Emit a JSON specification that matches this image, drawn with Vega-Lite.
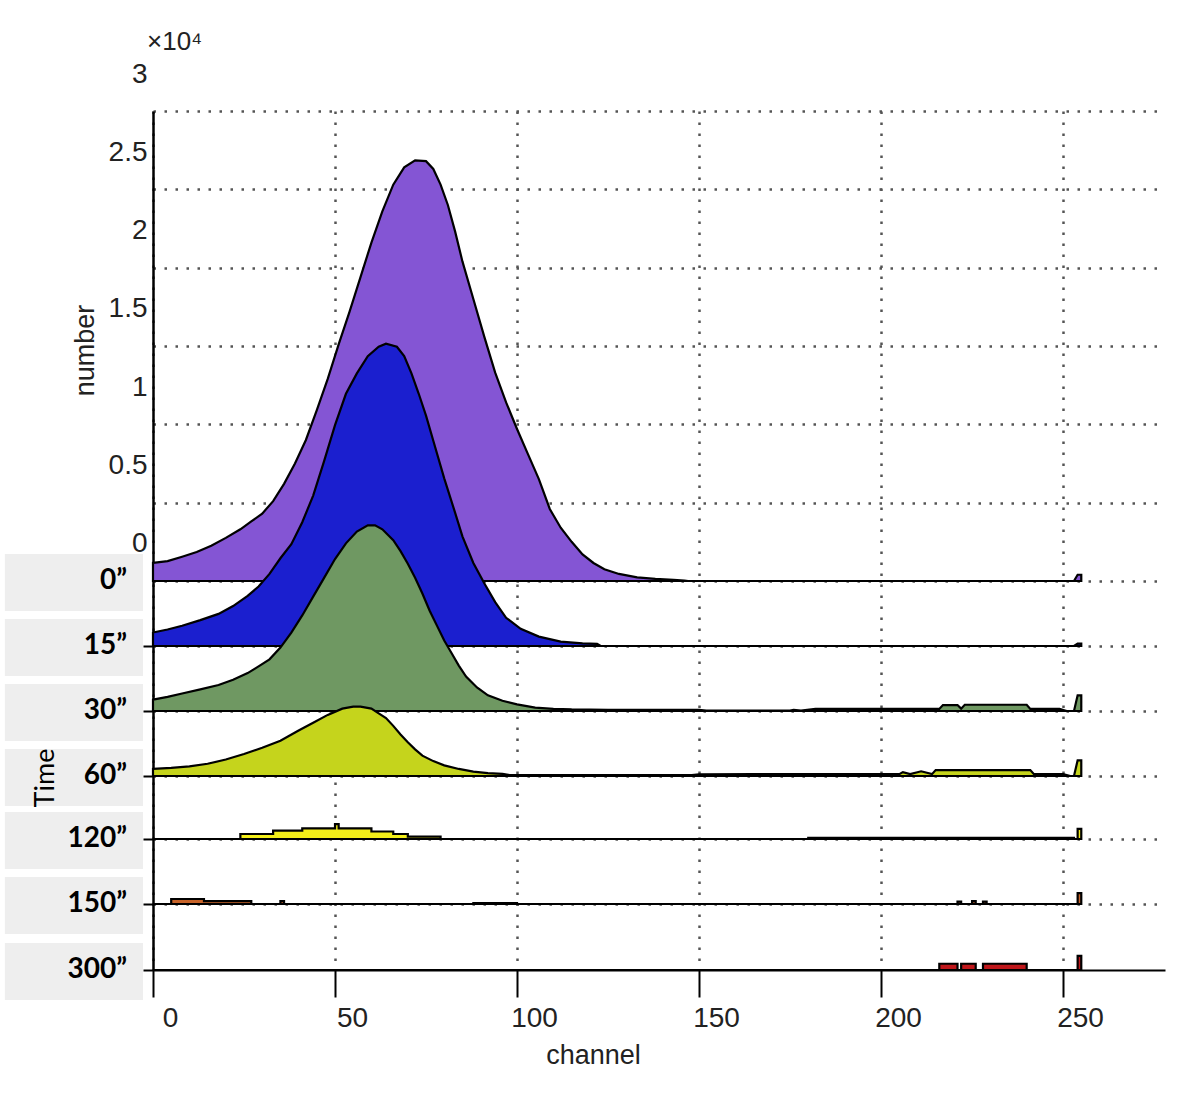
{
  "$schema": "https://vega.github.io/schema/vega-lite/v6.json",
  "autosize": {"type": "none"},
  "padding": {"left": 153, "top": 111, "right": 35, "bottom": 133},
  "width": 1012,
  "height": 859,
  "background": "white",
  "title": {"text": "×10⁴", "anchor": "start", "frame": "group", "offset": 5, "dx": -6, "font": "Liberation Sans, DejaVu Sans", "fontSize": 26, "fontWeight": "normal", "color": "#222"},
  "config": {
    "view": {"stroke": null},
    "axis": {"gridColor": "#555", "gridDash": [2.5, 8.5], "gridWidth": 2.5, "gridOpacity": 1, "tickColor": "black", "tickWidth": 2, "domainColor": "black", "labelFont": "Liberation Sans", "labelColor": "#222", "titleFont": "Liberation Sans", "titleColor": "#222", "titleFontWeight": "normal"},
    "axisX": {"orient": "bottom", "grid": true, "domain": true, "domainWidth": 2, "ticks": true, "tickSize": 27, "labelFontSize": 28, "labelPadding": 7, "labelAlign": "center", "labelBaseline": "top", "labelFlush": false, "labelOverlap": false, "labelOffset": 17, "titleFontSize": 27, "titleX": 440, "titleY": 85, "titleAlign": "center", "titleBaseline": "middle"}
  },
  "datasets": {
    "r0": [{"c":0,"n":1160},{"c":4,"n":1270},{"c":8,"n":1550},{"c":12,"n":1850},{"c":16,"n":2250},{"c":20,"n":2750},{"c":24,"n":3300},{"c":27,"n":3800},{"c":30,"n":4300},{"c":33,"n":5100},{"c":36,"n":6200},{"c":39,"n":7500},{"c":42,"n":9000},{"c":45,"n":10900},{"c":48,"n":12900},{"c":51,"n":15100},{"c":54,"n":17200},{"c":57,"n":19400},{"c":60,"n":21600},{"c":63,"n":23600},{"c":66,"n":25300},{"c":69,"n":26400},{"c":72,"n":26850},{"c":75,"n":26800},{"c":77,"n":26300},{"c":79,"n":25300},{"c":81,"n":24000},{"c":83,"n":22300},{"c":85,"n":20400},{"c":88,"n":18000},{"c":91,"n":15600},{"c":94,"n":13300},{"c":97,"n":11400},{"c":100,"n":9700},{"c":103,"n":8100},{"c":106,"n":6500},{"c":109,"n":4600},{"c":112,"n":3400},{"c":115,"n":2500},{"c":118,"n":1700},{"c":121,"n":1150},{"c":124,"n":750},{"c":128,"n":450},{"c":133,"n":230},{"c":138,"n":130},{"c":143,"n":70},{"c":146,"n":30},{"c":147,"n":0},{"c":253,"n":0},{"c":254,"n":400},{"c":255,"n":400}],
    "r1": [{"c":0,"n":860},{"c":4,"n":1050},{"c":8,"n":1290},{"c":13,"n":1650},{"c":18,"n":2050},{"c":22,"n":2550},{"c":26,"n":3200},{"c":29,"n":3800},{"c":32,"n":4600},{"c":35,"n":5600},{"c":38,"n":6500},{"c":41,"n":7900},{"c":44,"n":9600},{"c":47,"n":11800},{"c":50,"n":14100},{"c":53,"n":16100},{"c":56,"n":17400},{"c":59,"n":18500},{"c":62,"n":19100},{"c":64,"n":19300},{"c":67,"n":19100},{"c":69,"n":18500},{"c":71,"n":17400},{"c":73,"n":16100},{"c":75,"n":14700},{"c":77,"n":13100},{"c":80,"n":10700},{"c":83,"n":8500},{"c":85,"n":7000},{"c":88,"n":5300},{"c":91,"n":4000},{"c":94,"n":2800},{"c":97,"n":1800},{"c":101,"n":1100},{"c":106,"n":600},{"c":112,"n":280},{"c":118,"n":170},{"c":122,"n":130},{"c":123,"n":0},{"c":253,"n":0},{"c":254,"n":150},{"c":255,"n":150}],
    "r2": [{"c":0,"n":730},{"c":4,"n":900},{"c":8,"n":1120},{"c":13,"n":1380},{"c":18,"n":1660},{"c":22,"n":2000},{"c":26,"n":2420},{"c":29,"n":2850},{"c":32,"n":3300},{"c":35,"n":4050},{"c":38,"n":5000},{"c":41,"n":6100},{"c":44,"n":7300},{"c":47,"n":8500},{"c":50,"n":9700},{"c":53,"n":10700},{"c":56,"n":11450},{"c":59,"n":11850},{"c":61,"n":11850},{"c":63,"n":11600},{"c":66,"n":10900},{"c":68,"n":10200},{"c":70,"n":9400},{"c":72,"n":8500},{"c":74,"n":7500},{"c":76,"n":6400},{"c":78,"n":5450},{"c":80,"n":4500},{"c":82,"n":3700},{"c":84,"n":2900},{"c":86,"n":2200},{"c":89,"n":1500},{"c":92,"n":1000},{"c":96,"n":650},{"c":100,"n":420},{"c":105,"n":220},{"c":110,"n":140},{"c":115,"n":100},{"c":125,"n":80},{"c":140,"n":80},{"c":150,"n":70},{"c":152,"n":20},{"c":175,"n":20},{"c":176,"n":80},{"c":178,"n":20},{"c":182,"n":130},{"c":216,"n":130},{"c":217,"n":380},{"c":221,"n":380},{"c":222,"n":150},{"c":223,"n":400},{"c":240,"n":400},{"c":241,"n":130},{"c":249,"n":130},{"c":251,"n":0},{"c":253,"n":0},{"c":254,"n":1000},{"c":255,"n":1000}],
    "r3": [{"c":0,"n":450},{"c":5,"n":520},{"c":10,"n":620},{"c":15,"n":780},{"c":20,"n":1050},{"c":25,"n":1400},{"c":30,"n":1800},{"c":35,"n":2250},{"c":40,"n":2900},{"c":44,"n":3400},{"c":48,"n":3900},{"c":52,"n":4300},{"c":55,"n":4430},{"c":57,"n":4430},{"c":60,"n":4300},{"c":62,"n":4000},{"c":64,"n":3700},{"c":66,"n":3200},{"c":68,"n":2650},{"c":70,"n":2150},{"c":72,"n":1700},{"c":74,"n":1300},{"c":77,"n":950},{"c":80,"n":680},{"c":84,"n":450},{"c":88,"n":280},{"c":92,"n":180},{"c":96,"n":130},{"c":98,"n":60},{"c":120,"n":60},{"c":148,"n":60},{"c":150,"n":100},{"c":165,"n":120},{"c":205,"n":120},{"c":206,"n":250},{"c":208,"n":120},{"c":211,"n":300},{"c":214,"n":120},{"c":215,"n":380},{"c":241,"n":380},{"c":242,"n":120},{"c":250,"n":120},{"c":252,"n":0},{"c":253,"n":0},{"c":254,"n":1000},{"c":255,"n":1000}],
    "r4": [{"c":0,"n":0},{"c":24,"n":320},{"c":33,"n":530},{"c":41,"n":680},{"c":50,"n":950},{"c":51,"n":680},{"c":60,"n":480},{"c":66,"n":320},{"c":70,"n":150},{"c":79,"n":0},{"c":180,"n":70},{"c":253,"n":0},{"c":254,"n":650},{"c":255,"n":650}],
    "r5": [{"c":0,"n":0},{"c":5,"n":320},{"c":14,"n":180},{"c":27,"n":0},{"c":35,"n":180},{"c":36,"n":0},{"c":88,"n":50},{"c":100,"n":0},{"c":221,"n":150},{"c":222,"n":0},{"c":225,"n":180},{"c":226,"n":0},{"c":228,"n":150},{"c":229,"n":0},{"c":253,"n":0},{"c":254,"n":700},{"c":255,"n":700}],
    "r6": [{"c":0,"n":0},{"c":216,"n":400},{"c":221,"n":0},{"c":222,"n":400},{"c":226,"n":0},{"c":228,"n":400},{"c":240,"n":0},{"c":253,"n":0},{"c":254,"n":900},{"c":255,"n":900}]
  },
  "resolve": {"scale": {"y": "independent"}, "axis": {"y": "independent"}},
  "layer": [
    {"layer": [
      {"data": {"name": "r0"}, "mark": {"type": "area", "fill": "#8455D4", "stroke": "black", "strokeWidth": 2.2, "interpolate": "linear"},
       "encoding": {
         "x": {"field": "c", "type": "quantitative", "scale": {"domain": [0, 278], "nice": false, "zero": false}, "title": "channel", "axis": {"values": [0, 50, 100, 150, 200, 250]}},
         "y": {"field": "n", "type": "quantitative", "scale": {"domain": [-24830, 30000], "nice": false, "zero": false},
         "axis": {"orient": "left", "offset": 0, "values": [0, 5000, 10000, 15000, 20000, 25000, 30000], "labelExpr": "datum.value / 10000", "labelOffset": -37, "labelPadding": 6, "labelFontSize": 28, "labelAlign": "right", "labelBaseline": "middle", "labelFlush": false, "labelOverlap": false, "ticks": false, "domain": true, "domainWidth": 2.5, "grid": true, "title": "number", "titleFontSize": 27, "titleAngle": -90, "titleX": -68, "titleY": 239, "titleAlign": "center", "titleBaseline": "middle"}},
         "y2": {"datum": 0}}},
      {"data": {"values": [{"time": "0”"}]}, "mark": {"type": "rect", "fill": "#eeeeee"},
       "encoding": {"x": {"datum": -40.7}, "x2": {"datum": -2.75}, "y": {"datum": -1915}, "y2": {"datum": 1723}}},
      {"data": {"values": [{"time": "0”"}]}, "mark": {"type": "text", "align": "right", "baseline": "middle", "font": "Lato", "fontSize": 28, "fontWeight": "bold", "color": "black"},
       "encoding": {"x": {"datum": -7.1}, "y": {"datum": 0}, "text": {"field": "time"}}}
    ]},
    {"layer": [
      {"data": {"name": "r1"}, "mark": {"type": "area", "fill": "#1B1FCF", "stroke": "black", "strokeWidth": 2.2, "interpolate": "linear"},
       "encoding": {"x": {"field": "c", "type": "quantitative", "title": "channel", "axis": {"values": [0, 50, 100, 150, 200, 250]}},
         "y": {"field": "n", "type": "quantitative", "scale": {"domain": [-20681, 34149], "nice": false, "zero": false},
         "axis": {"orient": "left", "offset": 0, "values": [0], "labels": false, "ticks": true, "tickSize": 10, "domain": false, "grid": true, "title": null}},
         "y2": {"datum": 0}}},
      {"data": {"values": [{"time": "15”"}]}, "mark": {"type": "rect", "fill": "#eeeeee"},
       "encoding": {"x": {"datum": -40.7}, "x2": {"datum": -2.75}, "y": {"datum": -1915}, "y2": {"datum": 1723}}},
      {"data": {"values": [{"time": "15”"}]}, "mark": {"type": "text", "align": "right", "baseline": "middle", "font": "Lato", "fontSize": 28, "fontWeight": "bold", "color": "black"},
       "encoding": {"x": {"datum": -7.1}, "y": {"datum": 0}, "text": {"field": "time"}}}
    ]},
    {"layer": [
      {"data": {"name": "r2"}, "mark": {"type": "area", "fill": "#6F9862", "stroke": "black", "strokeWidth": 2.2, "interpolate": "linear"},
       "encoding": {"x": {"field": "c", "type": "quantitative", "title": "channel", "axis": {"values": [0, 50, 100, 150, 200, 250]}},
         "y": {"field": "n", "type": "quantitative", "scale": {"domain": [-16532, 38298], "nice": false, "zero": false},
         "axis": {"orient": "left", "offset": 0, "values": [0], "labels": false, "ticks": true, "tickSize": 10, "domain": false, "grid": true, "title": null}},
         "y2": {"datum": 0}}},
      {"data": {"values": [{"time": "30”"}]}, "mark": {"type": "rect", "fill": "#eeeeee"},
       "encoding": {"x": {"datum": -40.7}, "x2": {"datum": -2.75}, "y": {"datum": -1915}, "y2": {"datum": 1723}}},
      {"data": {"values": [{"time": "30”"}]}, "mark": {"type": "text", "align": "right", "baseline": "middle", "font": "Lato", "fontSize": 28, "fontWeight": "bold", "color": "black"},
       "encoding": {"x": {"datum": -7.1}, "y": {"datum": 0}, "text": {"field": "time"}}}
    ]},
    {"layer": [
      {"data": {"name": "r3"}, "mark": {"type": "area", "fill": "#C5D41C", "stroke": "black", "strokeWidth": 2.2, "interpolate": "linear"},
       "encoding": {"x": {"field": "c", "type": "quantitative", "title": "channel", "axis": {"values": [0, 50, 100, 150, 200, 250]}},
         "y": {"field": "n", "type": "quantitative", "scale": {"domain": [-12383, 42447], "nice": false, "zero": false},
         "axis": {"orient": "left", "offset": 0, "values": [0], "labels": false, "ticks": true, "tickSize": 10, "domain": false, "grid": true, "title": null}},
         "y2": {"datum": 0}}},
      {"data": {"values": [{"time": "60”"}]}, "mark": {"type": "rect", "fill": "#eeeeee"},
       "encoding": {"x": {"datum": -40.7}, "x2": {"datum": -2.75}, "y": {"datum": -1915}, "y2": {"datum": 1723}}},
      {"data": {"values": [{"time": "60”"}]}, "mark": {"type": "text", "align": "right", "baseline": "middle", "font": "Lato", "fontSize": 28, "fontWeight": "bold", "color": "black"},
       "encoding": {"x": {"datum": -7.1}, "y": {"datum": 0}, "text": {"field": "time"}}}
    ]},
    {"layer": [
      {"data": {"name": "r4"}, "mark": {"type": "area", "fill": "#F3EE19", "stroke": "black", "strokeWidth": 2.2, "interpolate": "step-after"},
       "encoding": {"x": {"field": "c", "type": "quantitative", "title": "channel", "axis": {"values": [0, 50, 100, 150, 200, 250]}},
         "y": {"field": "n", "type": "quantitative", "scale": {"domain": [-8362, 46468], "nice": false, "zero": false},
         "axis": {"orient": "left", "offset": 0, "values": [0], "labels": false, "ticks": true, "tickSize": 10, "domain": false, "grid": true, "title": null}},
         "y2": {"datum": 0}}},
      {"data": {"values": [{"time": "120”"}]}, "mark": {"type": "rect", "fill": "#eeeeee"},
       "encoding": {"x": {"datum": -40.7}, "x2": {"datum": -2.75}, "y": {"datum": -1915}, "y2": {"datum": 1723}}},
      {"data": {"values": [{"time": "120”"}]}, "mark": {"type": "text", "align": "right", "baseline": "middle", "font": "Lato", "fontSize": 28, "fontWeight": "bold", "color": "black"},
       "encoding": {"x": {"datum": -7.1}, "y": {"datum": 0}, "text": {"field": "time"}}}
    ]},
    {"layer": [
      {"data": {"name": "r5"}, "mark": {"type": "area", "fill": "#C8642A", "stroke": "black", "strokeWidth": 2.2, "interpolate": "step-after"},
       "encoding": {"x": {"field": "c", "type": "quantitative", "title": "channel", "axis": {"values": [0, 50, 100, 150, 200, 250]}},
         "y": {"field": "n", "type": "quantitative", "scale": {"domain": [-4213, 50617], "nice": false, "zero": false},
         "axis": {"orient": "left", "offset": 0, "values": [0], "labels": false, "ticks": true, "tickSize": 10, "domain": false, "grid": true, "title": null}},
         "y2": {"datum": 0}}},
      {"data": {"values": [{"time": "150”"}]}, "mark": {"type": "rect", "fill": "#eeeeee"},
       "encoding": {"x": {"datum": -40.7}, "x2": {"datum": -2.75}, "y": {"datum": -1915}, "y2": {"datum": 1723}}},
      {"data": {"values": [{"time": "150”"}]}, "mark": {"type": "text", "align": "right", "baseline": "middle", "font": "Lato", "fontSize": 28, "fontWeight": "bold", "color": "black"},
       "encoding": {"x": {"datum": -7.1}, "y": {"datum": 0}, "text": {"field": "time"}}}
    ]},
    {"layer": [
      {"data": {"name": "r6"}, "mark": {"type": "area", "fill": "#C0171B", "stroke": "black", "strokeWidth": 2.2, "interpolate": "step-after"},
       "encoding": {"x": {"field": "c", "type": "quantitative", "title": "channel", "axis": {"values": [0, 50, 100, 150, 200, 250]}},
         "y": {"field": "n", "type": "quantitative", "scale": {"domain": [0, 54830], "nice": false, "zero": false},
         "axis": {"orient": "left", "offset": 0, "values": [0], "labels": false, "ticks": true, "tickSize": 10, "domain": false, "grid": false, "title": null}},
         "y2": {"datum": 0}}},
      {"data": {"values": [{"time": "300”"}]}, "mark": {"type": "rect", "fill": "#eeeeee"},
       "encoding": {"x": {"datum": -40.7}, "x2": {"datum": -2.75}, "y": {"datum": -1915}, "y2": {"datum": 1723}}},
      {"data": {"values": [{"time": "300”"}]}, "mark": {"type": "text", "align": "right", "baseline": "middle", "font": "Lato", "fontSize": 28, "fontWeight": "bold", "color": "black"},
       "encoding": {"x": {"datum": -7.1}, "y": {"datum": 0}, "text": {"field": "time"}}},
      {"data": {"values": [{"label": "Time"}]}, "mark": {"type": "text", "align": "center", "baseline": "middle", "angle": 270, "font": "Lato", "fontSize": 27, "color": "black"},
       "encoding": {"x": {"datum": -29.3}, "y": {"datum": 12255}, "text": {"field": "label"}}}
    ]}
  ]
}
